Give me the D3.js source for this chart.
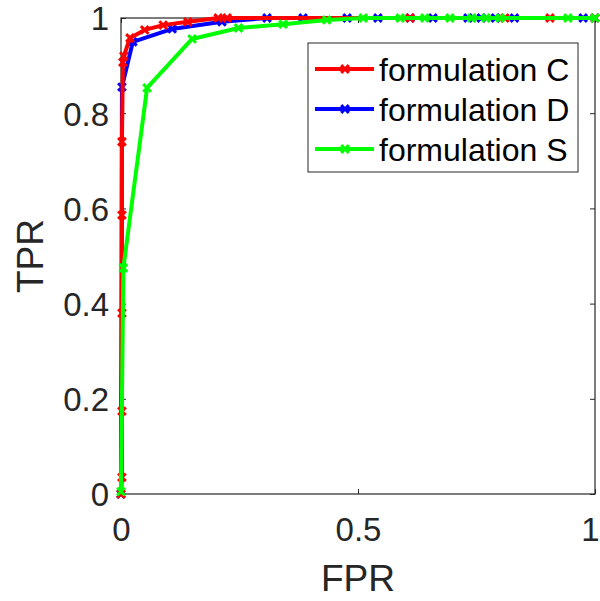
<!DOCTYPE html>
<html>
<head>
<meta charset="utf-8">
<script src="https://cdn.jsdelivr.net/npm/d3@7"></script>
<style>
  html, body { margin: 0; padding: 0; background: #fff; }
  svg { display: block; font-family: "Liberation Sans", Arial, sans-serif; }
</style>
</head>
<body>
<svg id="chart" width="600" height="601"></svg>
<script>
// ROC points (FPR, TPR) for each formulation
const fprC = [0, 0.002, 0.002, 0.002, 0.002, 0.002, 0.004, 0.006, 0.019, 0.05, 0.089, 0.141, 0.205, 0.224, 0.61, 0.81, 0.905, 1];
const tprC = [0, 0.035, 0.174, 0.38, 0.586, 0.74, 0.907, 0.92, 0.958, 0.975, 0.985, 0.992, 1, 1, 1, 1, 1, 1];

const fprD = [0, 0.002, 0.025, 0.108, 0.213, 0.308, 0.384, 0.477, 0.542, 0.61, 0.658, 0.732, 0.76, 0.79, 0.83, 0.975, 1];
const tprD = [0, 0.855, 0.95, 0.977, 0.992, 1, 1, 1, 1, 1, 1, 1, 1, 1, 1, 1, 1];

const fprS = [0, 0.005, 0.055, 0.15, 0.248, 0.342, 0.434, 0.511, 0.589, 0.641, 0.694, 0.74, 0.77, 0.8, 0.943, 1];
const tprS = [0.005, 0.475, 0.853, 0.956, 0.979, 0.987, 0.996, 1, 1, 1, 1, 1, 1, 1, 1, 1];

const seriesNames = ["formulation C", "formulation D", "formulation S"];
const seriesColors = ["#ff0000", "#0000ff", "#00ff00"];
const xTicks = [0, 0.5, 1];
const yTicks = [0, 0.2, 0.4, 0.6, 0.8, 1];

const series = [
  { name: seriesNames[0], color: seriesColors[0], x: fprC, y: tprC },
  { name: seriesNames[1], color: seriesColors[1], x: fprD, y: tprD },
  { name: seriesNames[2], color: seriesColors[2], x: fprS, y: tprS }
];
// D is painted underneath C, S on top
const drawOrder = [1, 0, 2];

const svg = d3.select("#chart");
const plotLeft = 121, plotRight = 595, plotTop = 18, plotBottom = 494;
const x = d3.scaleLinear().domain([0, 1]).range([plotLeft, plotRight]);
const y = d3.scaleLinear().domain([0, 1]).range([plotBottom, plotTop]);
const axisColor = "#262626";
const tickFont = 33;

// axes box
svg.append("rect")
  .attr("x", plotLeft).attr("y", plotTop)
  .attr("width", plotRight - plotLeft).attr("height", plotBottom - plotTop)
  .attr("fill", "none").attr("stroke", axisColor).attr("stroke-width", 1.2);

// bottom axis (ticks point inward)
const xAxis = svg.append("g").attr("transform", `translate(0,${plotBottom})`)
  .call(d3.axisBottom(x).tickValues(xTicks).tickSizeInner(-5).tickSizeOuter(0)
    .tickFormat(d => d3.format("~g")(d)));
xAxis.select(".domain").remove();
xAxis.selectAll("line").attr("stroke", axisColor);
xAxis.selectAll("text").attr("fill", axisColor).attr("font-size", tickFont)
  .attr("dy", null).attr("y", 47).attr("font-family", "Liberation Sans, Arial, sans-serif")
  .attr("dx", d => d === 1 ? -5 : 0);

// top ticks
svg.append("g").attr("transform", `translate(0,${plotTop})`)
  .call(d3.axisTop(x).tickValues(xTicks).tickSizeInner(-5).tickSizeOuter(0).tickFormat(""))
  .call(g => g.select(".domain").remove())
  .selectAll("line").attr("stroke", axisColor);

// left axis
const yAxis = svg.append("g").attr("transform", `translate(${plotLeft},0)`)
  .call(d3.axisLeft(y).tickValues(yTicks).tickSizeInner(-5).tickSizeOuter(0)
    .tickFormat(d => d3.format("~g")(d)));
yAxis.select(".domain").remove();
yAxis.selectAll("line").attr("stroke", axisColor);
yAxis.selectAll("text").attr("fill", axisColor).attr("font-size", tickFont)
  .attr("x", -12).attr("dy", "0.36em").attr("font-family", "Liberation Sans, Arial, sans-serif");

// right ticks
svg.append("g").attr("transform", `translate(${plotRight},0)`)
  .call(d3.axisRight(y).tickValues(yTicks).tickSizeInner(-5).tickSizeOuter(0).tickFormat(""))
  .call(g => g.select(".domain").remove())
  .selectAll("line").attr("stroke", axisColor);

// axis titles
svg.append("text").attr("x", (plotLeft + plotRight) / 2).attr("y", 591)
  .attr("text-anchor", "middle").attr("font-size", 37).attr("fill", axisColor).text("FPR");
svg.append("text").attr("transform", `translate(43,${(plotTop + plotBottom) / 2}) rotate(-90)`)
  .attr("text-anchor", "middle").attr("font-size", 37).attr("fill", axisColor).text("TPR");

// curves
const line = d3.line().x(d => x(d[0])).y(d => y(d[1]));
const marker = d3.symbol().type(d3.symbolX).size(40);

drawOrder.forEach(k => {
  const s = series[k];
  const pts = s.x.map((v, i) => [v, s.y[i]]);
  const g = svg.append("g");
  g.append("path").datum(pts).attr("d", line)
    .attr("fill", "none").attr("stroke", s.color).attr("stroke-width", 4)
    .attr("stroke-linejoin", "round");
  g.selectAll("path.m").data(pts).join("path").attr("class", "m")
    .attr("transform", d => `translate(${x(d[0])},${y(d[1])})`)
    .attr("d", marker).attr("fill", "none").attr("stroke", s.color).attr("stroke-width", 3);
});

// legend
const lg = svg.append("g");
lg.append("rect").attr("x", 308).attr("y", 43).attr("width", 270).attr("height", 129)
  .attr("fill", "#fff").attr("stroke", axisColor).attr("stroke-width", 1);
series.forEach((s, i) => {
  const cy = 69 + i * 40;
  lg.append("line").attr("x1", 315).attr("x2", 374).attr("y1", cy).attr("y2", cy)
    .attr("stroke", s.color).attr("stroke-width", 4);
  lg.append("path").attr("transform", `translate(345,${cy})`).attr("d", marker)
    .attr("fill", "none").attr("stroke", s.color).attr("stroke-width", 3);
  lg.append("text").attr("x", 379).attr("y", cy).attr("dy", "0.36em")
    .attr("font-size", 32).attr("fill", "#000").text(s.name);
});
</script>
</body>
</html>
